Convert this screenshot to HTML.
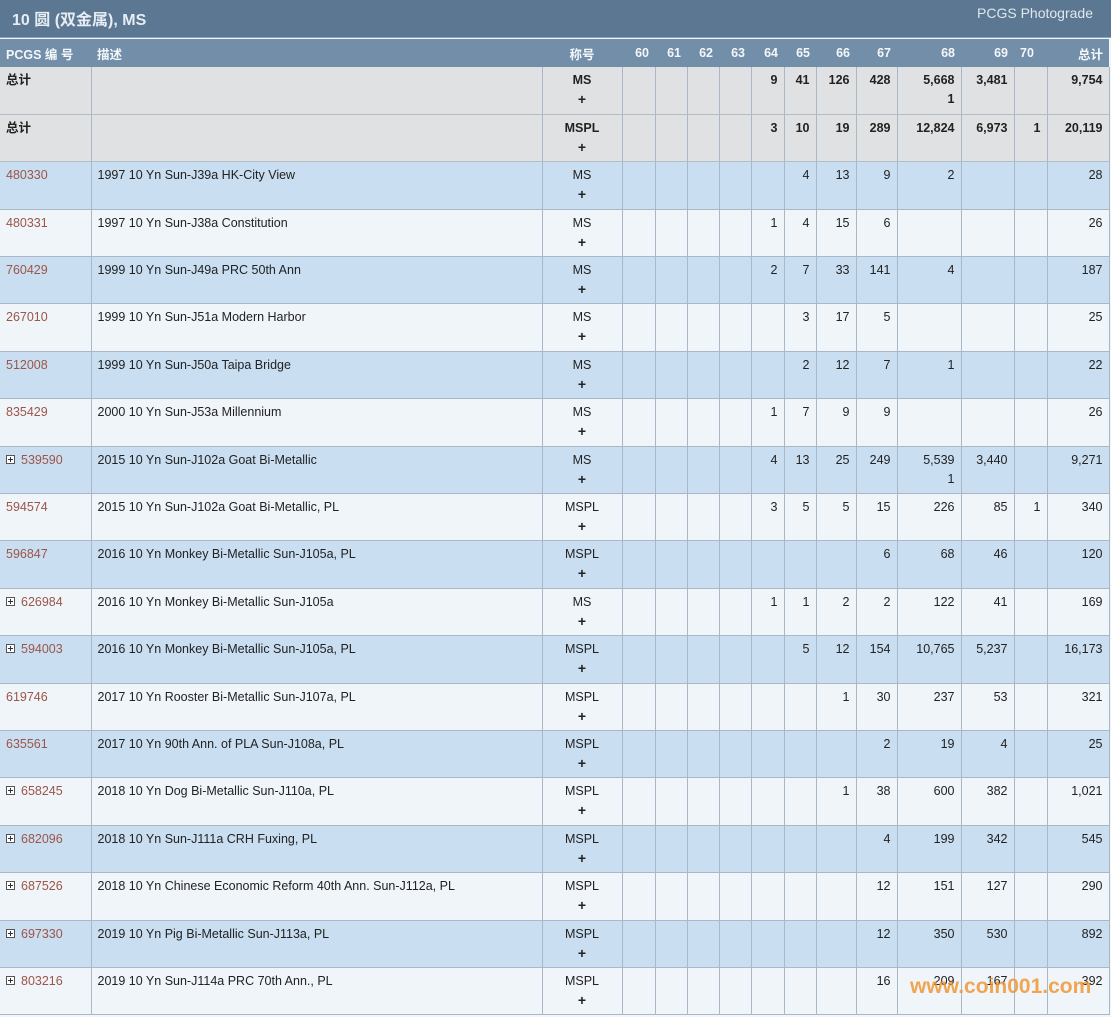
<!DOCTYPE html>
<html><head><meta charset="utf-8"><style>
*{margin:0;padding:0;box-sizing:border-box}
body{width:1111px;height:1017px;overflow:hidden;background:#f0f5fa;font-family:"Liberation Sans","Noto Sans CJK SC",sans-serif;font-size:12.5px;color:#222;position:relative}
.top{position:absolute;left:0;top:0;width:1111px;height:38px;background:#5c7791;border-bottom:1px solid #8ea4b8}
.top .t{position:absolute;left:12px;top:6px;font-size:16px;font-weight:bold;color:#e6edf4}
.top .r{position:absolute;right:18px;top:5px;font-size:14px;color:#dfe7ef}
table{position:absolute;left:0;top:39px;width:1109px;border-collapse:collapse;table-layout:fixed}
th{height:28px;background:#728ea8;color:#f4f7fa;font-weight:bold;font-size:12.5px;text-align:right;padding:0 6px;white-space:nowrap}
th.l{text-align:left}th.c{text-align:center}
td{height:47.4px;vertical-align:top;padding:4px 6px 0;border:1px solid #a9b7c6;border-top:none;text-align:right;line-height:19px;white-space:nowrap;overflow:hidden}
td:first-child{border-left:none;text-align:left}
td.d{text-align:left}
td.c{text-align:center}
td.c b{font-size:14px;font-weight:bold}
tr.g td{background:#e0e1e3;font-weight:bold;border-bottom-color:#b4bcc6}
tr.b td{background:#c9def1}
tr.w td{background:#f0f5fa}
.k{color:#9c5548}
.p{display:inline-block;width:9px;height:9px;border:1px solid #555;position:relative;margin-right:6px;top:0px;background:#fff}
.p:before{content:"";position:absolute;left:1px;top:3px;width:5px;height:1px;background:#333}
.p:after{content:"";position:absolute;left:3px;top:1px;width:1px;height:5px;background:#333}
.wm{position:absolute;left:910px;top:975px;font-size:21px;font-weight:bold;color:rgba(240,150,50,0.85)}
</style></head><body>
<div class="top"><div class="t">10 圆 (双金属), MS</div><div class="r">PCGS Photograde</div></div>
<table>
<colgroup><col style="width:91px"><col style="width:451px"><col style="width:80px"><col style="width:33px"><col style="width:32px"><col style="width:32px"><col style="width:32px"><col style="width:33px"><col style="width:32px"><col style="width:40px"><col style="width:41px"><col style="width:64px"><col style="width:53px"><col style="width:33px"><col style="width:62px"></colgroup>
<tr><th class="l">PCGS 编 号</th><th class="l">描述</th><th class="c">称号</th><th>60</th><th>61</th><th>62</th><th>63</th><th>64</th><th>65</th><th>66</th><th>67</th><th>68</th><th>69</th><th class="l">70</th><th>总计</th></tr>
<tr class="g"><td>总计</td><td></td><td class="c">MS<br><b>+</b></td><td></td><td></td><td></td><td></td><td>9</td><td>41</td><td>126</td><td>428</td><td>5,668<br>1</td><td>3,481</td><td></td><td>9,754</td></tr>
<tr class="g"><td>总计</td><td></td><td class="c">MSPL<br><b>+</b></td><td></td><td></td><td></td><td></td><td>3</td><td>10</td><td>19</td><td>289</td><td>12,824</td><td>6,973</td><td>1</td><td>20,119</td></tr>
<tr class="b"><td class="k">480330</td><td class="d">1997 10 Yn Sun-J39a HK-City View</td><td class="c">MS<br><b>+</b></td><td></td><td></td><td></td><td></td><td></td><td>4</td><td>13</td><td>9</td><td>2</td><td></td><td></td><td>28</td></tr>
<tr class="w"><td class="k">480331</td><td class="d">1997 10 Yn Sun-J38a Constitution</td><td class="c">MS<br><b>+</b></td><td></td><td></td><td></td><td></td><td>1</td><td>4</td><td>15</td><td>6</td><td></td><td></td><td></td><td>26</td></tr>
<tr class="b"><td class="k">760429</td><td class="d">1999 10 Yn Sun-J49a PRC 50th Ann</td><td class="c">MS<br><b>+</b></td><td></td><td></td><td></td><td></td><td>2</td><td>7</td><td>33</td><td>141</td><td>4</td><td></td><td></td><td>187</td></tr>
<tr class="w"><td class="k">267010</td><td class="d">1999 10 Yn Sun-J51a Modern Harbor</td><td class="c">MS<br><b>+</b></td><td></td><td></td><td></td><td></td><td></td><td>3</td><td>17</td><td>5</td><td></td><td></td><td></td><td>25</td></tr>
<tr class="b"><td class="k">512008</td><td class="d">1999 10 Yn Sun-J50a Taipa Bridge</td><td class="c">MS<br><b>+</b></td><td></td><td></td><td></td><td></td><td></td><td>2</td><td>12</td><td>7</td><td>1</td><td></td><td></td><td>22</td></tr>
<tr class="w"><td class="k">835429</td><td class="d">2000 10 Yn Sun-J53a Millennium</td><td class="c">MS<br><b>+</b></td><td></td><td></td><td></td><td></td><td>1</td><td>7</td><td>9</td><td>9</td><td></td><td></td><td></td><td>26</td></tr>
<tr class="b"><td class="k"><span class="p"></span>539590</td><td class="d">2015 10 Yn Sun-J102a Goat Bi-Metallic</td><td class="c">MS<br><b>+</b></td><td></td><td></td><td></td><td></td><td>4</td><td>13</td><td>25</td><td>249</td><td>5,539<br>1</td><td>3,440</td><td></td><td>9,271</td></tr>
<tr class="w"><td class="k">594574</td><td class="d">2015 10 Yn Sun-J102a Goat Bi-Metallic, PL</td><td class="c">MSPL<br><b>+</b></td><td></td><td></td><td></td><td></td><td>3</td><td>5</td><td>5</td><td>15</td><td>226</td><td>85</td><td>1</td><td>340</td></tr>
<tr class="b"><td class="k">596847</td><td class="d">2016 10 Yn Monkey Bi-Metallic Sun-J105a, PL</td><td class="c">MSPL<br><b>+</b></td><td></td><td></td><td></td><td></td><td></td><td></td><td></td><td>6</td><td>68</td><td>46</td><td></td><td>120</td></tr>
<tr class="w"><td class="k"><span class="p"></span>626984</td><td class="d">2016 10 Yn Monkey Bi-Metallic Sun-J105a</td><td class="c">MS<br><b>+</b></td><td></td><td></td><td></td><td></td><td>1</td><td>1</td><td>2</td><td>2</td><td>122</td><td>41</td><td></td><td>169</td></tr>
<tr class="b"><td class="k"><span class="p"></span>594003</td><td class="d">2016 10 Yn Monkey Bi-Metallic Sun-J105a, PL</td><td class="c">MSPL<br><b>+</b></td><td></td><td></td><td></td><td></td><td></td><td>5</td><td>12</td><td>154</td><td>10,765</td><td>5,237</td><td></td><td>16,173</td></tr>
<tr class="w"><td class="k">619746</td><td class="d">2017 10 Yn Rooster Bi-Metallic Sun-J107a, PL</td><td class="c">MSPL<br><b>+</b></td><td></td><td></td><td></td><td></td><td></td><td></td><td>1</td><td>30</td><td>237</td><td>53</td><td></td><td>321</td></tr>
<tr class="b"><td class="k">635561</td><td class="d">2017 10 Yn 90th Ann. of PLA Sun-J108a, PL</td><td class="c">MSPL<br><b>+</b></td><td></td><td></td><td></td><td></td><td></td><td></td><td></td><td>2</td><td>19</td><td>4</td><td></td><td>25</td></tr>
<tr class="w"><td class="k"><span class="p"></span>658245</td><td class="d">2018 10 Yn Dog Bi-Metallic Sun-J110a, PL</td><td class="c">MSPL<br><b>+</b></td><td></td><td></td><td></td><td></td><td></td><td></td><td>1</td><td>38</td><td>600</td><td>382</td><td></td><td>1,021</td></tr>
<tr class="b"><td class="k"><span class="p"></span>682096</td><td class="d">2018 10 Yn Sun-J111a CRH Fuxing, PL</td><td class="c">MSPL<br><b>+</b></td><td></td><td></td><td></td><td></td><td></td><td></td><td></td><td>4</td><td>199</td><td>342</td><td></td><td>545</td></tr>
<tr class="w"><td class="k"><span class="p"></span>687526</td><td class="d">2018 10 Yn Chinese Economic Reform 40th Ann. Sun-J112a, PL</td><td class="c">MSPL<br><b>+</b></td><td></td><td></td><td></td><td></td><td></td><td></td><td></td><td>12</td><td>151</td><td>127</td><td></td><td>290</td></tr>
<tr class="b"><td class="k"><span class="p"></span>697330</td><td class="d">2019 10 Yn Pig Bi-Metallic Sun-J113a, PL</td><td class="c">MSPL<br><b>+</b></td><td></td><td></td><td></td><td></td><td></td><td></td><td></td><td>12</td><td>350</td><td>530</td><td></td><td>892</td></tr>
<tr class="w"><td class="k"><span class="p"></span>803216</td><td class="d">2019 10 Yn Sun-J114a PRC 70th Ann., PL</td><td class="c">MSPL<br><b>+</b></td><td></td><td></td><td></td><td></td><td></td><td></td><td></td><td>16</td><td>209</td><td>167</td><td></td><td>392</td></tr>
</table>
<div class="wm">www.coin001.com</div>
</body></html>
